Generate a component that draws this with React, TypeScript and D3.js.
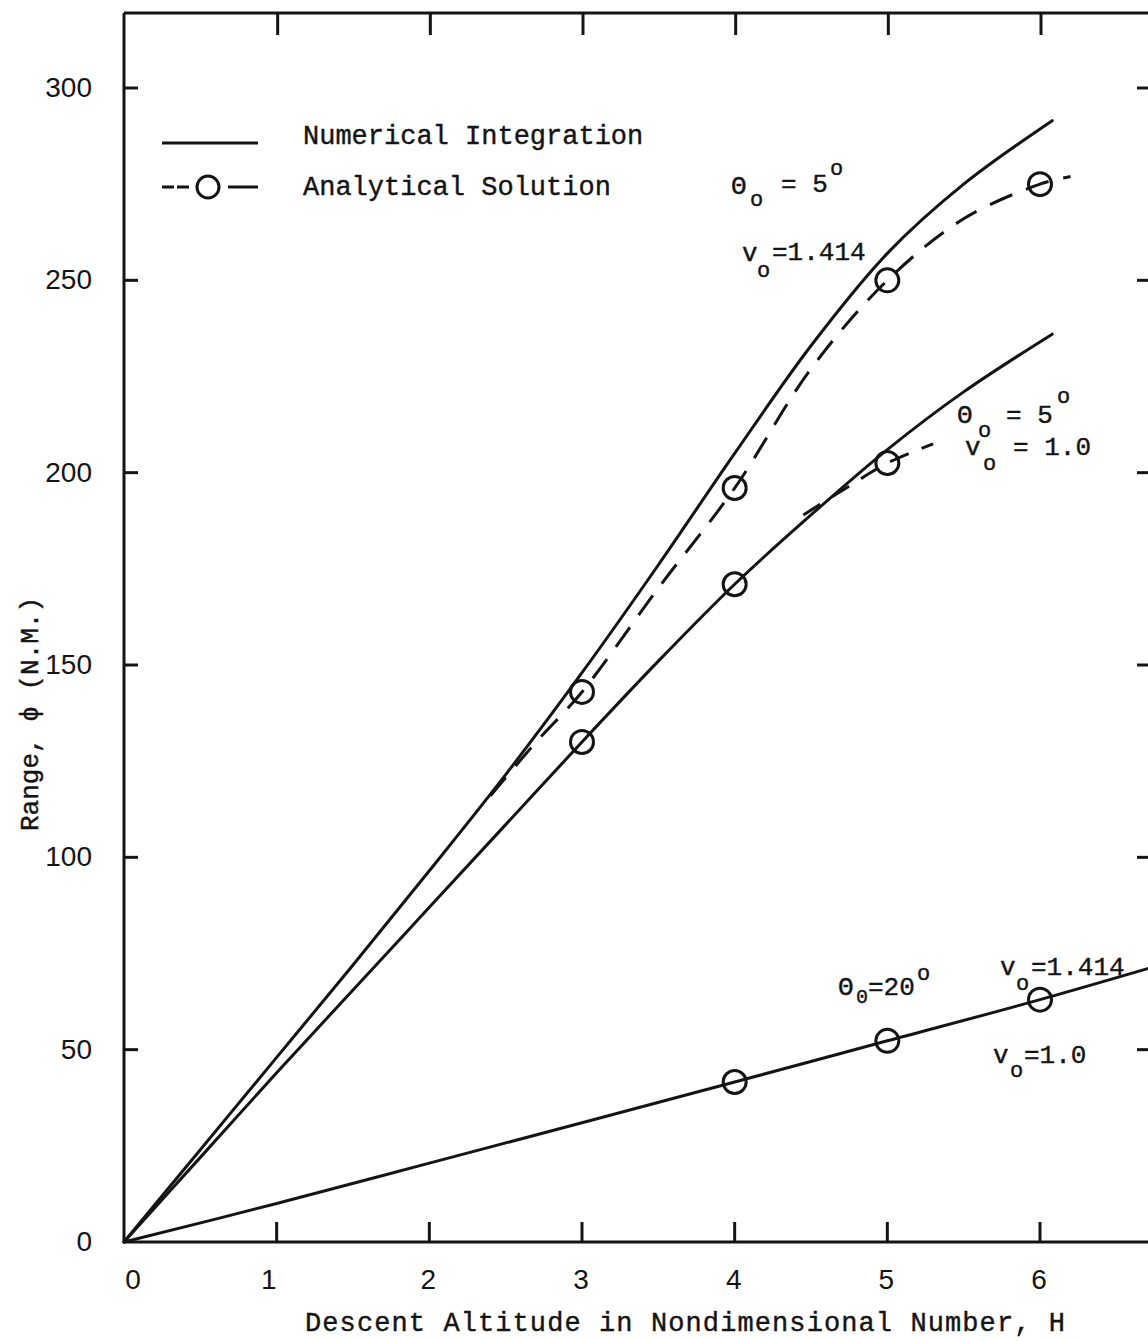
import React from 'react';
import * as d3 from 'd3';

// ---- data (H = descent altitude, R = range in N.M.) ----
const H_TICKS = [0, 1, 2, 3, 4, 5, 6];
const R_TICKS = [0, 50, 100, 150, 200, 250, 300];
const H_TICK_LABELS = ['0', '1', '2', '3', '4', '5', '6'];

// Numerical integration, theta0 = 5 deg, v0 = 1.414
const numA: [number, number][] = [
  [0, 0], [0.5, 24], [1, 48], [1.5, 72], [2, 96.5], [2.5, 121.5], [3, 148],
  [3.5, 176], [4, 205], [4.5, 233], [5, 257], [5.5, 275], [6.08, 291.5],
];
// Numerical integration, theta0 = 5 deg, v0 = 1.0
const numB: [number, number][] = [
  [0, 0], [0.5, 22], [1, 44], [1.5, 65.5], [2, 87], [2.5, 108.5], [3, 130],
  [3.5, 151], [4, 171], [4.5, 189], [5, 206], [5.5, 221], [6.08, 236],
];
// Numerical integration, theta0 = 20 deg
const numC: [number, number][] = [
  [0, 0], [1, 10], [2, 20.5], [3, 31], [4, 41.6], [5, 52.3], [6, 63], [7, 74.5],
];
// Analytical solution dashed curves
const anaA: [number, number][] = [
  [2.4, 116], [2.7, 130], [3, 143], [3.5, 170], [4, 196], [4.5, 227],
  [5, 250], [5.5, 266], [6, 275], [6.2, 277],
];
const anaB: [number, number][] = [
  [4.45, 189], [4.75, 196.5], [5, 202.5], [5.3, 207.5],
];
// Analytical solution points (circles)
const ptsA: [number, number][] = [[3, 143], [4, 196], [5, 250], [6, 275]];
const ptsB: [number, number][] = [[3, 130], [4, 171], [5, 202.5]];
const ptsC: [number, number][] = [[4, 41.6], [5, 52.3], [6, 63]];

const INK = '#141414';
const MONO = '"Liberation Mono", "DejaVu Sans Mono", monospace';
const SANS = '"Liberation Sans", Arial, sans-serif';

export default function App() {
  const W = 1148;
  const H = 1341;
  const x = d3.scaleLinear().domain([0, 6]).range([124, 1040]);
  const y = d3.scaleLinear().domain([0, 300]).range([1242, 88]);
  const smooth = d3
    .line<[number, number]>()
    .x((d) => x(d[0]))
    .y((d) => y(d[1]))
    .curve(d3.curveCatmullRom.alpha(0.5));

  const top = 13;
  const left = x(0);
  const bottom = y(0);

  return (
    <svg
      width={W}
      height={H}
      viewBox={`0 0 ${W} ${H}`}
      style={{ position: 'absolute', left: 0, top: 0, background: '#fff' }}
    >
      <rect x={0} y={0} width={W} height={H} fill="#fff" />
      {/* frame */}
      <g stroke={INK} strokeWidth={3} fill="none">
        <line x1={left} y1={top} x2={W} y2={top} />
        <line x1={left} y1={top} x2={left} y2={bottom} />
        <line x1={left} y1={bottom} x2={W} y2={bottom} />
        {H_TICKS.filter((h) => h > 0).map((h) => (
          <g key={'xt' + h}>
            <line x1={x(h)} y1={bottom} x2={x(h)} y2={bottom - 20} />
            <line x1={x(h) + 1} y1={top} x2={x(h) + 1} y2={top + 22} />
          </g>
        ))}
        {R_TICKS.filter((r) => r > 0).map((r) => (
          <g key={'yt' + r}>
            <line x1={left} y1={y(r)} x2={left + 14} y2={y(r)} />
            <line x1={W - 11} y1={y(r)} x2={W} y2={y(r)} />
          </g>
        ))}
      </g>

      {/* tick labels */}
      <g fill={INK} fontFamily={SANS} fontSize={28}>
        {R_TICKS.map((r) => (
          <text key={'yl' + r} x={92} y={y(r) + 9} textAnchor="end">
            {r}
          </text>
        ))}
        {H_TICKS.map((h, i) => (
          <text
            key={'xl' + h}
            x={x(h) + (h === 0 ? 9 : h === 1 ? -8 : -1)}
            y={1289}
            textAnchor="middle"
          >
            {H_TICK_LABELS[i]}
          </text>
        ))}
      </g>

      {/* axis titles */}
      <g fill={INK} stroke={INK} strokeWidth={0.4} fontFamily={MONO}>
        <text
          x={305}
          y={1331}
          fontSize={27}
          textLength={760}
          lengthAdjust="spacing"
        >
          Descent Altitude in Nondimensional Number, H
        </text>
        <text transform="translate(38,831) rotate(-90)" x={0} y={0} fontSize={26}>
          Range, ϕ (N.M.)
        </text>
      </g>

      {/* curves */}
      <g fill="none" stroke={INK} strokeWidth={3} strokeLinecap="round">
        <path d={smooth(numA) || ''} />
        <path d={smooth(numB) || ''} />
        <path d={smooth(numC) || ''} />
        <path d={smooth(anaA) || ''} strokeDasharray="24 15" strokeLinecap="butt" />
        <path d={smooth(anaB) || ''} strokeDasharray="20 14" strokeLinecap="butt" />
      </g>
      <g fill="none" stroke={INK} strokeWidth={3}>
        {[...ptsA, ...ptsB, ...ptsC].map((p, i) => (
          <circle key={'c' + i} cx={x(p[0])} cy={y(p[1])} r={11.5} />
        ))}
      </g>

      {/* legend */}
      <g stroke={INK} strokeWidth={3} fill="none">
        <line x1={162} y1={143} x2={258} y2={143} />
        <line x1={162} y1={187} x2={190} y2={187} strokeDasharray="12 3" />
        <circle cx={208} cy={187} r={11} />
        <line x1={228} y1={187} x2={258} y2={187} />
      </g>
      <g fill={INK} stroke={INK} strokeWidth={0.4} fontFamily={MONO} fontSize={27}>
        <text x={303} y={144}>Numerical Integration</text>
        <text x={303} y={195}>Analytical Solution</text>
      </g>

      {/* annotations */}
      <g fill={INK} stroke={INK} strokeWidth={0.4} fontFamily={MONO} fontSize={26}>
        <text x={731} y={194}>Θ</text>
        <text x={750} y={206} fontSize={22}>o</text>
        <text x={781} y={192}>= 5</text>
        <text x={830} y={175} fontSize={22}>o</text>

        <text x={742} y={261}>v</text>
        <text x={757} y={277} fontSize={22}>o</text>
        <text x={772} y={260}>=1.414</text>

        <text x={957} y={423}>Θ</text>
        <text x={978} y={437} fontSize={22}>o</text>
        <text x={1006} y={423}>= 5</text>
        <text x={1057} y={403} fontSize={22}>o</text>

        <text x={965} y={455}>v</text>
        <text x={983} y={470} fontSize={22}>o</text>
        <text x={1013} y={455}>= 1.0</text>

        <text x={838} y={995}>Θ</text>
        <text x={856} y={1003} fontSize={20}>0</text>
        <text x={868} y={995}>=20</text>
        <text x={917} y={980} fontSize={22}>o</text>

        <text x={1000} y={975}>v</text>
        <text x={1016} y={990} fontSize={22}>o</text>
        <text x={1031} y={975}>=1.414</text>

        <text x={993} y={1063}>v</text>
        <text x={1010} y={1077} fontSize={22}>o</text>
        <text x={1024} y={1063}>=1.0</text>
      </g>
    </svg>
  );
}
